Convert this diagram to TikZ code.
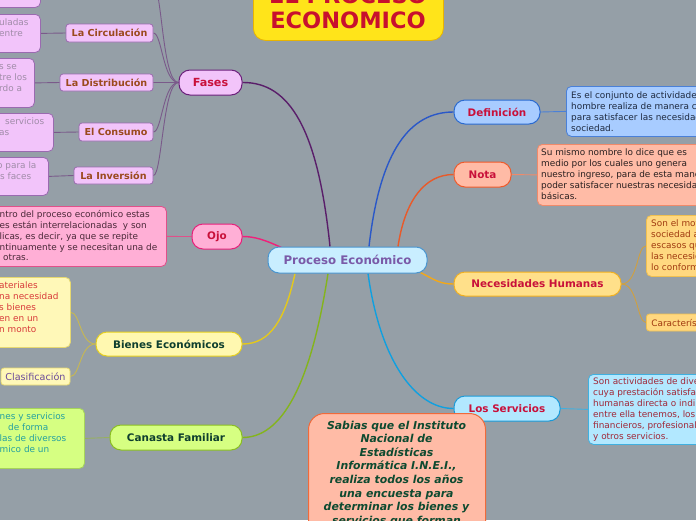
\documentclass[tikz,border=0pt]{standalone}
\usepackage{fontspec}
\setmainfont{DejaVu Sans}
\usetikzlibrary{calc,backgrounds}
\definecolor{bg}{HTML}{959FA7}
\definecolor{titF}{HTML}{FFE41A}\definecolor{titD}{HTML}{E8B400}\definecolor{titT}{HTML}{C8102E}
\definecolor{peF}{HTML}{C9EEFF}\definecolor{peD}{HTML}{4A96D0}\definecolor{peT}{HTML}{7A5AA8}
\definecolor{crim}{HTML}{C8103A}
\definecolor{fasF}{HTML}{F2C4FA}\definecolor{fasD}{HTML}{6B1F7B}\definecolor{fasE}{HTML}{5A1E6A}
\definecolor{fasS}{HTML}{9A6AB0}\definecolor{fasT}{HTML}{9B4A1E}\definecolor{fasL}{HTML}{A08CA8}\definecolor{fasTw}{HTML}{7A5A8A}
\definecolor{ojoF}{HTML}{FFAFD6}\definecolor{ojoD}{HTML}{E8207A}\definecolor{ojoE}{HTML}{F0207A}\definecolor{ojoS}{HTML}{E0508A}\definecolor{ojoT}{HTML}{4A2838}
\definecolor{bieF}{HTML}{FFF8B0}\definecolor{bieLF}{HTML}{FFF8B8}\definecolor{bieD}{HTML}{E6CF1E}\definecolor{bieE}{HTML}{E4C81C}
\definecolor{bieS}{HTML}{E6D870}\definecolor{bieT}{HTML}{0E3E2E}\definecolor{bieL}{HTML}{D83A3A}\definecolor{clasT}{HTML}{6A4A9A}\definecolor{bieTw}{HTML}{C8B850}
\definecolor{canF}{HTML}{D6FF82}\definecolor{canD}{HTML}{8ABE22}\definecolor{canE}{HTML}{84B41C}\definecolor{canS}{HTML}{A6D45A}\definecolor{canL}{HTML}{24A0A0}\definecolor{canTw}{HTML}{98B060}
\definecolor{defF}{HTML}{A8CCFF}\definecolor{defD}{HTML}{2A6AD0}\definecolor{defE}{HTML}{2A58C8}\definecolor{defS}{HTML}{4A80D8}\definecolor{defL}{HTML}{1E2A40}
\definecolor{notF}{HTML}{FFBBA6}\definecolor{notD}{HTML}{F05A2A}\definecolor{notE}{HTML}{E85A2A}\definecolor{notS}{HTML}{F08A6A}\definecolor{notL}{HTML}{2A2020}
\definecolor{necF}{HTML}{FFE08A}\definecolor{necD}{HTML}{F2B020}\definecolor{necE}{HTML}{F2A81A}\definecolor{necLF}{HTML}{FFD880}\definecolor{necS}{HTML}{F0C050}\definecolor{necL}{HTML}{A03A10}\definecolor{necTw}{HTML}{D0A040}
\definecolor{serF}{HTML}{B2E8FF}\definecolor{serD}{HTML}{1A9AD8}\definecolor{serE}{HTML}{10A0E0}\definecolor{serS}{HTML}{40B0E0}\definecolor{serL}{HTML}{A02838}
\definecolor{sabF}{HTML}{FFBBA6}\definecolor{sabD}{HTML}{F06A3A}\definecolor{sabT}{HTML}{0E4A30}
\newcommand\mystrut{\rule{0pt}{7pt}}
\begin{document}
\begin{tikzpicture}[x=1pt,y=-1pt,
  mainbox/.style={draw, line width=1pt, rounded corners=11pt, inner sep=0pt, font=\bfseries\fontsize{10.4}{12}\selectfont},
  subbox/.style={draw, line width=0.8pt, rounded corners=3pt, inner sep=0pt, font=\bfseries\fontsize{9.6}{11}\selectfont},
  leafbox/.style={draw, line width=0.8pt, rounded corners=5pt, inner sep=0pt, anchor=north west},
  ltext/.style={inner sep=0pt, align=left, anchor=north west, font=\fontsize{8.9}{11}\selectfont},
  edgeline/.style={line width=1.4pt},
  twig/.style={line width=0.9pt}]
\useasboundingbox (0,0) rectangle (696,520);

% title
\node[leafbox, rounded corners=12pt, fill=titF, draw=titD, minimum width=190pt, minimum height=80pt] (title) at (253,-40) {};
\node[inner sep=0pt, anchor=base, text=titT, font=\bfseries\fontsize{22.5}{25}\selectfont] (t1) at (348,3.7) {EL PROCESO};
\node[inner sep=0pt, anchor=base, text=titT, font=\bfseries\fontsize{22.5}{25}\selectfont] (t2) at (348,28.7) {ECONOMICO};

% central and main branches
\node[mainbox, fill=peF, draw=peD, text=peT, font=\bfseries\fontsize{11.8}{14}\selectfont, minimum width=159pt, minimum height=26pt] (pe) at (347.5,260) {Proceso Económico};
\node[mainbox, fill=fasF, draw=fasD, text=crim, font=\bfseries\fontsize{11.2}{13}\selectfont, minimum width=63pt, minimum height=25pt] (fases) at (210.5,82.5) {Fases};
\node[mainbox, fill=ojoF, draw=ojoD, text=crim, minimum width=50pt, minimum height=25pt] (ojo) at (217,236.5) {Ojo};
\node[mainbox, fill=bieF, draw=bieD, text=bieT, minimum width=146pt, minimum height=24pt] (bienes) at (169,344) {Bienes Económicos};
\node[mainbox, fill=canF, draw=canD, text=bieT, minimum width=132pt, minimum height=25pt] (canasta) at (176,437.5) {Canasta Familiar};
\node[mainbox, fill=defF, draw=defD, text=crim, minimum width=86pt, minimum height=24pt] (def) at (497,112) {Definición};
\node[mainbox, fill=notF, draw=notD, text=crim, minimum width=57pt, minimum height=25pt] (nota) at (482.5,174.5) {Nota};
\node[mainbox, fill=necF, draw=necD, text=crim, minimum width=167pt, minimum height=24pt] (nec) at (537.5,284) {Necesidades Humanas};
\node[mainbox, fill=serF, draw=serD, text=crim, minimum width=106pt, minimum height=25pt] (serv) at (507,408.5) {Los Servicios};

% Fases sub-branches
\node[subbox, fill=fasF, draw=fasS, text=fasT, minimum width=87pt, minimum height=18pt] (circ) at (109.5,33) {La Circulación};
\node[subbox, fill=fasF, draw=fasS, text=fasT, minimum width=93pt, minimum height=17pt] (dist) at (106.5,82.5) {La Distribución};
\node[subbox, fill=fasF, draw=fasS, text=fasT, minimum width=74pt, minimum height=18pt] (cons) at (116,132) {El Consumo};
\node[subbox, fill=fasF, draw=fasS, text=fasT, minimum width=79pt, minimum height=17pt] (inv) at (113.5,175.5) {La Inversión};
\coordinate (prod) at (153,-16);

% Fases leaves
\node[leafbox, fill=fasF, draw=fasS, minimum width=60pt, minimum height=40pt] (f0) at (-20,-33) {};
\node[leafbox, fill=fasF, draw=fasS, minimum width=60pt, minimum height=38pt] (f1) at (-20,14) {};
\node[leafbox, fill=fasF, draw=fasS, minimum width=54pt, minimum height=49pt] (f2) at (-20,58) {};
\node[leafbox, fill=fasF, draw=fasS, minimum width=73pt, minimum height=38pt] (f3) at (-20,113) {};
\node[leafbox, fill=fasF, draw=fasS, minimum width=68pt, minimum height=38pt] (f4) at (-20,157) {};
\node[ltext, text=fasL] (f1t) at (-1,18.5) {\mystrut uladas\\entre};
\node[ltext, text=fasL] (f2t) at (-1,62.5) {\mystrut s se\\tre los\\rdo a};
\node[ltext, text=fasL] (f3t) at (5,117.5) {\mystrut servicios};
\node[ltext, text=fasL] (f3u) at (-1,128.5) {\mystrut as};
\node[ltext, text=fasL] (f4t) at (-3,161.5) {\mystrut o para la};
\node[ltext, text=fasL] (f4u) at (0,172.5) {\mystrut s faces};

% Ojo leaf
\node[leafbox, fill=ojoF, draw=ojoS, minimum width=186pt, minimum height=60pt] (ojoleaf) at (-20,206) {};
\node[ltext, text=ojoT, font=\fontsize{8.9}{10.8}\selectfont] (ojot) at (-0.5,210.5) {\mystrut ntro del proceso económico estas\\es están interrelacionadas\ \ y son\\licas, es decir, ya que se repite\\ntinuamente y se necesitan una de};
\node[ltext, text=ojoT] (ojou) at (3,253.7) {\mystrut otras.};

% Bienes children
\node[leafbox, fill=bieLF, draw=bieS, minimum width=90pt, minimum height=70pt] (bieleaf) at (-20,277) {};
\node[ltext, text=bieL] (biet) at (-1,281.5) {\mystrut ateriales\\na necesidad\\s bienes\\en en un\\n monto};
\node[subbox, fill=bieLF, draw=bieS, text=clasT, font=\fontsize{9.6}{11}\selectfont, minimum width=69pt, minimum height=17pt] (clas) at (35.5,376.5) {Clasificación};

% Canasta leaf
\node[leafbox, fill=canF, draw=canS, minimum width=104pt, minimum height=60pt] (canleaf) at (-20,408) {};
\node[ltext, text=canL] (cant) at (-0.5,412.5) {\mystrut nes y servicios};
\node[ltext, text=canL] (canu) at (8,423.5) {\mystrut de forma};
\node[ltext, text=canL] (canv) at (-0.5,434.5) {\mystrut las de diversos\\mico de un};

% right leaves
\node[leafbox, fill=defF, draw=defS, minimum width=160pt, minimum height=50pt] (defleaf) at (566,86) {};
\node[ltext, text=defL] (deft) at (571,91.5) {\mystrut Es el conjunto de actividades que el\\hombre realiza de manera consciente\\para satisfacer las necesidades de la\\sociedad.};
\node[leafbox, fill=notF, draw=notS, minimum width=190pt, minimum height=61pt] (notaleaf) at (537,144) {};
\node[ltext, text=notL] (notat) at (541,148.5) {\mystrut Su mismo nombre lo dice que es\\medio por los cuales uno genera\\nuestro ingreso, para de esta manera\\poder satisfacer nuestras necesidades\\básicas.};
\node[leafbox, fill=necLF, draw=necS, minimum width=80pt, minimum height=61pt] (necleaf) at (646,215) {};
\node[ltext, text=necL] (nect) at (651,219.5) {\mystrut Son el motor que impulsa a la\\sociedad a utilizar recursos\\escasos que satisfagan\\las necesidades de quienes\\lo conforman.};
\node[subbox, fill=necLF, draw=necS, text=necL, font=\fontsize{8.9}{10}\selectfont, anchor=west, inner xsep=5pt, minimum height=17pt] (carac) at (646,322.5) {Características};
\node[leafbox, fill=serF, draw=serS, minimum width=140pt, minimum height=70pt] (servleaf) at (588,374) {};
\node[ltext, text=serL] (servt) at (593,377.5) {\mystrut Son actividades de diversa índole\\cuya prestación satisface necesidades\\humanas directa o indirectamente,\\entre ella tenemos, los servicios\\financieros, profesionales, de salud\\y otros servicios.};

% Sabias box
\node[leafbox, rounded corners=16pt, line width=1pt, fill=sabF, draw=sabD, minimum width=177pt, minimum height=150pt] (sabias) at (308,413) {};
\node[inner sep=0pt, anchor=north, align=center, text=sabT, font=\bfseries\itshape\fontsize{10.9}{13.6}\selectfont] (sabt) at (396.5,420.4) {\rule{0pt}{8.5pt}Sabias que el Instituto\\Nacional de\\Estadísticas\\Informática I.N.E.I.,\\realiza todos los años\\una encuesta para\\determinar los bienes y\\servicios que forman};

\begin{scope}[on background layer]
\fill[bg] (0,0) rectangle (696,520);
% main connectors
\draw[edgeline, fasE] ($(pe.north)+(-17.5,0)$) .. controls (318,130) and (290,82) .. (fases.east);
\draw[edgeline, ojoE] ($(pe.north west)+(15,1.5)$) .. controls (265,240) and (255,236.5) .. (ojo.east);
\draw[edgeline, bieE] ($(pe.south)+(-52.5,0)$) .. controls (285,320) and (270,344) .. (bienes.east);
\draw[edgeline, canE] ($(pe.south)+(-19.5,0)$) .. controls (310,390) and (280,437.5) .. (canasta.east);
\draw[edgeline, defE] ($(pe.north)+(21.5,0)$) .. controls (380,150) and (410,112) .. (def.west);
\draw[edgeline, notE] ($(pe.north)+(50.5,0)$) .. controls (405,200) and (425,174.5) .. (nota.west);
\draw[edgeline, necE] ($(pe.south east)+(-7,-1)$) .. controls (435,280) and (440,284) .. (nec.west);
\draw[edgeline, serE] ($(pe.south)+(20.5,0)$) .. controls (380,360) and (415,408.5) .. (serv.west);
% Fases twigs
\draw[twig, fasTw] (fases.west) .. controls (162,82.5) and (162,-16) .. (prod);
\draw[twig, fasTw] (fases.west) .. controls (163,82.5) and (162,33) .. (circ.east);
\draw[twig, fasTw] (fases.west) -- (dist.east);
\draw[twig, fasTw] (fases.west) .. controls (163,82.5) and (162,132) .. (cons.east);
\draw[twig, fasTw] (fases.west) .. controls (163,82.5) and (162,175.5) .. (inv.east);
\draw[twig, fasTw] (f1.east) -- (circ.west);
\draw[twig, fasTw] (f2.east) -- (dist.west);
\draw[twig, fasTw] (f3.east) -- (cons.west);
\draw[twig, fasTw] (f4.east) -- (inv.west);
\draw[twig, ojoS] (ojoleaf.east) -- (ojo.west);
\draw[twig, bieTw] (bienes.west) .. controls (80,344) and (80,312) .. (bieleaf.east);
\draw[twig, bieTw] (bienes.west) .. controls (80,344) and (80,376.5) .. (clas.east);
\draw[twig, canTw] (canleaf.east) -- (canasta.west);
\draw[twig, defS] (def.east) -- (defleaf.west);
\draw[twig, notS] (nota.east) -- (notaleaf.west);
\draw[twig, necTw] (nec.east) .. controls (638,284) and (637,245.5) .. (necleaf.west);
\draw[twig, necTw] (nec.east) .. controls (638,284) and (637,322.5) .. (carac.west);
\draw[twig, serS] (serv.east) -- (servleaf.west);
\end{scope}
\end{tikzpicture}
\end{document}
